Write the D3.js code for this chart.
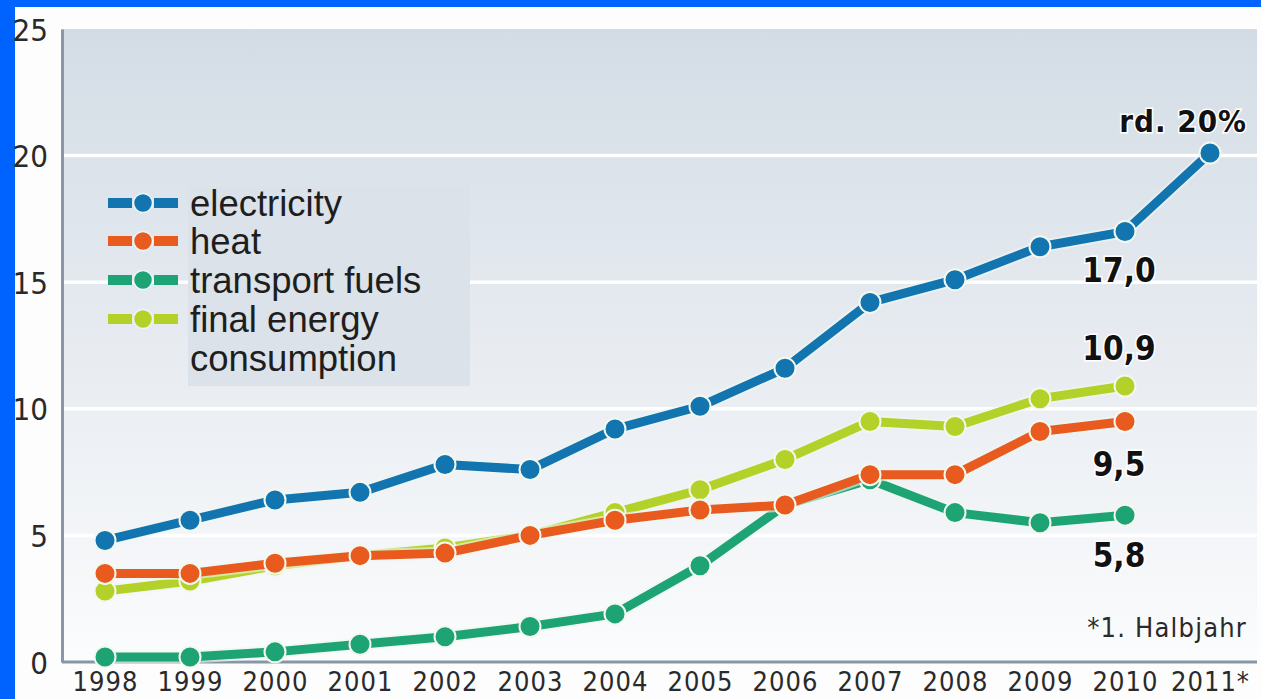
<!DOCTYPE html>
<html><head><meta charset="utf-8">
<script src="https://cdn.jsdelivr.net/npm/d3@7"></script>
<style>
html,body{margin:0;padding:0;background:#0062ff;}
svg{display:block;}
</style></head>
<body>
<svg id="chart" width="1261" height="699"></svg>
<script>
const years = ["1998","1999","2000","2001","2002","2003","2004","2005","2006","2007","2008","2009","2010","2011*"];
const electricity = [4.8,5.6,6.4,6.7,7.8,7.6,9.2,10.1,11.6,14.2,15.1,16.4,17.0,20.1];
const heat = [3.5,3.5,3.9,4.2,4.3,5.0,5.6,6.0,6.2,7.4,7.4,9.1,9.5];
const transport = [0.2,0.2,0.4,0.7,1.0,1.4,1.9,3.8,6.2,7.2,5.9,5.5,5.8];
const finalEnergy = [2.8,3.2,3.8,4.2,4.5,5.0,5.9,6.8,8.0,9.5,9.3,10.4,10.9];
const yTicks = [0,5,10,15,20,25];
const seriesNames = ["electricity","heat","transport fuels","final energy","consumption"];
const annotations = [
  {text:"rd. 20%", year:"2011*", value:20.1},
  {text:"17,0", year:"2010", value:17.0},
  {text:"10,9", year:"2010", value:10.9},
  {text:"9,5", year:"2010", value:9.5},
  {text:"5,8", year:"2010", value:5.8}
];
const footnote = "*1. Halbjahr";

const colors = {electricity:"#1275b0", heat:"#e85a1e", transport:"#1ea374", final:"#b4d12a"};
const condFont = "'DejaVu Sans Condensed','DejaVu Sans',sans-serif";
const svg = d3.select("#chart");
svg.append("rect").attr("x",15).attr("y",7).attr("width",1246).attr("height",692).attr("fill","#fdfdfd");

const x = d3.scalePoint().domain(years).range([105,1210]);
const y = d3.scaleLinear().domain([0,25]).range([662,29]);
const plotL = 62, plotR = 1257;

const defs = svg.append("defs");
const grad = defs.append("linearGradient").attr("id","bg").attr("x1",0).attr("y1",0).attr("x2",0).attr("y2",1);
grad.append("stop").attr("offset","0%").attr("stop-color","#d3dce5");
grad.append("stop").attr("offset","55%").attr("stop-color","#e9edf2");
grad.append("stop").attr("offset","100%").attr("stop-color","#fbfcfd");
svg.append("rect").attr("x",plotL).attr("y",y(25)).attr("width",plotR-plotL).attr("height",y(0)-y(25)).attr("fill","url(#bg)");

svg.append("g").selectAll("line").data(yTicks.filter(d=>d>0 && d<25)).join("line")
  .attr("x1",plotL).attr("x2",plotR).attr("y1",d=>y(d)).attr("y2",d=>y(d))
  .attr("stroke","#ffffff").attr("stroke-width",3.5);

svg.append("rect").attr("x",188).attr("y",186).attr("width",282).attr("height",200).attr("fill","#dce2e9");

const yAxis = d3.axisLeft(y).tickValues(yTicks).tickSize(0).tickPadding(14);
const gy = svg.append("g").attr("transform",`translate(${plotL},0)`).call(yAxis);
gy.select(".domain").attr("stroke","#8797a7").attr("stroke-width",3);
gy.selectAll("text").attr("font-family",condFont).attr("font-stretch","condensed")
  .attr("font-size",31).attr("fill","#2a2a2a").attr("dy","0.36em").attr("x",-14);

const xAxis = d3.axisBottom(x).tickSize(0).tickPadding(0);
const gx = svg.append("g").attr("transform",`translate(0,${y(0)})`).call(xAxis);
gx.select(".domain").attr("d",`M${plotL},0H${plotR}`).attr("stroke","#8797a7").attr("stroke-width",3);
gx.selectAll("text").attr("font-family",condFont).attr("font-stretch","condensed")
  .attr("font-size",27).attr("letter-spacing",1).attr("fill","#2a2a2a").attr("y",29).attr("dy",null);

const line = d3.line().x((d,i)=>x(years[i])).y(d=>y(d));
const series = [
  {vals:transport, c:colors.transport},
  {vals:finalEnergy, c:colors.final},
  {vals:heat, c:colors.heat},
  {vals:electricity, c:colors.electricity}
];
series.forEach(s=>{
  const g = svg.append("g");
  g.append("path").attr("d",line(s.vals)).attr("fill","none").attr("stroke","#eef6f0").attr("stroke-width",13).attr("stroke-linejoin","round").attr("opacity",0.6);
  g.append("path").attr("d",line(s.vals)).attr("fill","none").attr("stroke",s.c).attr("stroke-width",9).attr("stroke-linejoin","round");
  g.selectAll("circle").data(s.vals).join("circle")
    .attr("cx",(d,i)=>x(years[i])).attr("cy",d=>y(d)).attr("r",10.5)
    .attr("fill",s.c).attr("stroke","#f2f8ee").attr("stroke-width",2);
});

const legendItems = [
  {name:seriesNames[0], c:colors.electricity, cy:203},
  {name:seriesNames[1], c:colors.heat, cy:241},
  {name:seriesNames[2], c:colors.transport, cy:280},
  {name:seriesNames[3], c:colors.final, cy:319}
];
const lg = svg.append("g");
const legFont = "'Liberation Sans',Arial,sans-serif";
legendItems.forEach(it=>{
  lg.append("rect").attr("x",108).attr("y",it.cy-5).attr("width",24).attr("height",10).attr("fill",it.c);
  lg.append("rect").attr("x",154).attr("y",it.cy-5).attr("width",24).attr("height",10).attr("fill",it.c);
  lg.append("circle").attr("cx",143).attr("cy",it.cy).attr("r",9.5).attr("fill",it.c).attr("stroke","#eaf6f8").attr("stroke-width",1.5);
  lg.append("text").attr("x",190).attr("y",it.cy).attr("dy","0.35em").text(it.name)
    .attr("font-family",legFont).attr("font-size",36.5).attr("fill","#1e1e1e");
});
lg.append("text").attr("x",190).attr("y",358).attr("dy","0.35em").text(seriesNames[4])
  .attr("font-family",legFont).attr("font-size",36.5).attr("fill","#1e1e1e");

const annOffsets = [-21, 39, -38, 43, 40];
annotations.forEach((a,i)=>{
  const t = svg.append("text").text(a.text)
    .attr("font-family",condFont).attr("font-stretch","condensed")
    .attr("font-weight","bold").attr("fill","#111")
    .attr("stroke","#ffffff").attr("stroke-width",3).attr("paint-order","stroke");
  if(i===0){
    t.attr("x",1247).attr("y",y(a.value)+annOffsets[i]).attr("text-anchor","end")
     .attr("font-size",31).attr("letter-spacing",1);
  } else {
    t.attr("x",x(a.year)-6).attr("y",y(a.value)+annOffsets[i]).attr("text-anchor","middle").attr("dy","0.36em")
     .attr("font-size",33);
  }
});
svg.append("text").text(footnote).attr("x",1247).attr("y",637).attr("text-anchor","end")
  .attr("font-family",condFont).attr("font-stretch","condensed")
  .attr("font-size",27).attr("letter-spacing",1.2).attr("fill","#2a2a2a");
</script>
</body></html>
